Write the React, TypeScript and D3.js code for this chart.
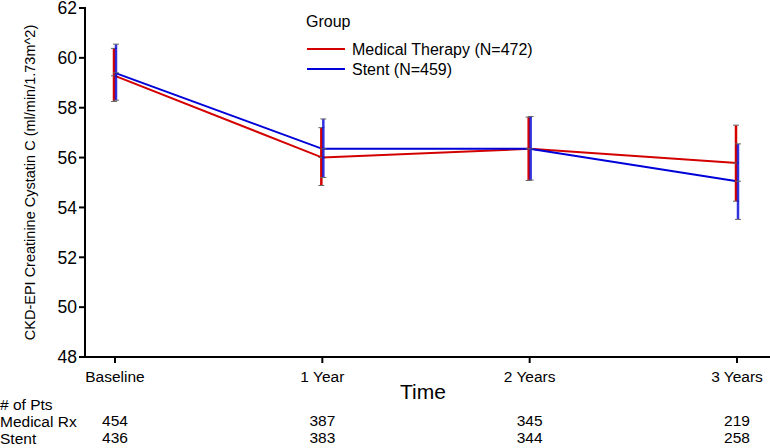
import { useMemo } from "react";
import * as d3 from "d3";

const timepoints = ["Baseline", "1 Year", "2 Years", "3 Years"];
const yTicks = [48, 50, 52, 54, 56, 58, 60, 62];

const medicalMean = [59.28, 56.0, 56.35, 55.78];
const medicalLow = [58.25, 54.88, 55.08, 54.25];
const medicalHigh = [60.38, 57.2, 57.62, 57.3];

const stentMean = [59.4, 56.35, 56.35, 55.05];
const stentLow = [58.3, 55.2, 55.1, 53.52];
const stentHigh = [60.55, 57.55, 57.65, 56.55];

const medicalPts = [454, 387, 345, 219];
const stentPts = [436, 383, 344, 258];

const FONT = "Arial, 'Liberation Sans', sans-serif";
const RED = "#d40000";
const BLUE = "#0000d8";

const W = 770;
const H = 448;
const margin = { top: 8, left: 85, bottom: 357 };

const App = () => {
  const x = useMemo(
    () => d3.scalePoint<string>().domain(timepoints).range([115, 737]),
    []
  );
  const y = useMemo(
    () => d3.scaleLinear().domain([48, 62]).range([margin.bottom, margin.top]),
    []
  );

  const line = d3
    .line<number>()
    .x((_, i) => x(timepoints[i]) as number)
    .y((d) => y(d));

  const series = [
    { name: "Medical Therapy (N=472)", color: RED, mean: medicalMean, low: medicalLow, high: medicalHigh, dx: -1, opacity: 1 },
    { name: "Stent (N=459)", color: BLUE, mean: stentMean, low: stentLow, high: stentHigh, dx: 1, opacity: 0.8 },
  ];

  return (
    <svg
      width={W}
      height={H}
      style={{ position: "absolute", left: 0, top: 0, background: "#fff" }}
      fontFamily={FONT}
    >
      {/* y axis */}
      <line x1={margin.left} x2={margin.left} y1={margin.top - 1} y2={margin.bottom} stroke="#000" strokeWidth={2} />
      {yTicks.map((t) => (
        <g key={t}>
          <line x1={margin.left - 6} x2={margin.left} y1={y(t)} y2={y(t)} stroke="#000" strokeWidth={2} />
          <text x={margin.left - 8} y={y(t)} dy="0.36em" textAnchor="end" fontSize={17.5}>
            {t}
          </text>
        </g>
      ))}
      <text
        transform={`translate(35,${(margin.top + margin.bottom) / 2}) rotate(-90)`}
        textAnchor="middle"
        fontSize={14.5}
      >
        CKD-EPI Creatinine Cystatin C (ml/min/1.73m^2)
      </text>

      {/* x axis */}
      <line x1={margin.left - 6} x2={W} y1={margin.bottom} y2={margin.bottom} stroke="#000" strokeWidth={2} />
      {timepoints.map((t) => (
        <g key={t}>
          <line x1={x(t)} x2={x(t)} y1={margin.bottom} y2={margin.bottom + 6} stroke="#000" strokeWidth={2} />
          <text x={x(t)} y={margin.bottom + 25} textAnchor="middle" fontSize={15.5}>
            {t}
          </text>
        </g>
      ))}
      <text x={423} y={399} textAnchor="middle" fontSize={21}>
        Time
      </text>

      {/* lines */}
      {series.map((s) => (
        <path key={s.name} d={line(s.mean) ?? ""} fill="none" stroke={s.color} strokeWidth={2} />
      ))}

      {/* error bars */}
      {series.map((s) =>
        timepoints.map((t, i) => {
          const cx = (x(t) as number) + s.dx;
          return (
            <g key={s.name + t}>
              <line x1={cx} x2={cx} y1={y(s.low[i])} y2={y(s.high[i])} stroke={s.color} strokeWidth={2.5} opacity={s.opacity} />
              {[s.low[i], s.mean[i], s.high[i]].map((v, j) => (
                <line key={j} x1={cx - 3} x2={cx + 3} y1={y(v)} y2={y(v)} stroke="#666" strokeWidth={1} />
              ))}
            </g>
          );
        })
      )}

      {/* legend */}
      <text x={306} y={27} fontSize={16}>
        Group
      </text>
      {series.map((s, i) => (
        <g key={s.name} transform={`translate(307,${49 + i * 20})`}>
          <line x1={0} x2={38} y1={0} y2={0} stroke={s.color} strokeWidth={2} />
          <text x={45} y={0} dy="0.36em" fontSize={16}>
            {s.name}
          </text>
        </g>
      ))}

      {/* number at risk table */}
      <text x={0} y={410} fontSize={15.5}>
        # of Pts
      </text>
      <text x={0} y={427} fontSize={15.5}>
        Medical Rx
      </text>
      <text x={0} y={444} fontSize={15.5}>
        Stent
      </text>
      {timepoints.map((t, i) => (
        <g key={t}>
          <text x={x(t)} y={426} textAnchor="middle" fontSize={15.5}>
            {medicalPts[i]}
          </text>
          <text x={x(t)} y={443} textAnchor="middle" fontSize={15.5}>
            {stentPts[i]}
          </text>
        </g>
      ))}
    </svg>
  );
};

export default App;
